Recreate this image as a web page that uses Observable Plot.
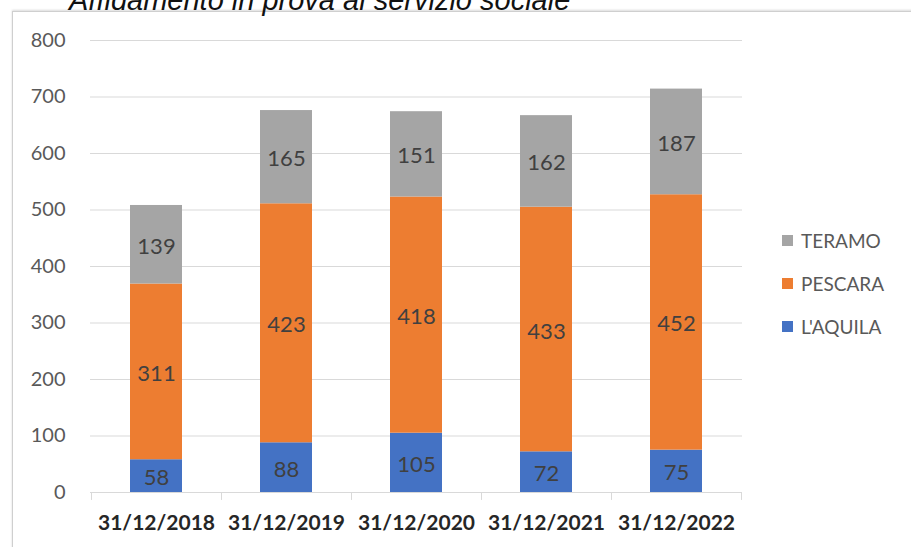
<!DOCTYPE html>
<html>
<head>
<meta charset="utf-8">
<script src="https://cdn.jsdelivr.net/npm/d3@7"></script>
<script src="https://cdn.jsdelivr.net/npm/@observablehq/plot@0.6"></script>
<style>
  html, body { margin: 0; padding: 0; background: #fff; overflow: hidden; }
  #wrap { position: relative; width: 911px; height: 547px; overflow: hidden; }
  #title { position: absolute; left: 69px; top: -14px; font: italic 29px "Liberation Sans", Arial, sans-serif; color: #111; line-height: 29px; white-space: nowrap; }
  #frame { position: absolute; left: 12px; top: 11px; width: 940px; height: 600px; border: 1px solid #cfcfcf; box-shadow: 0 -1px 2px rgba(0,0,0,0.15); }
  #chart { position: absolute; left: 0; top: 0; }
  #legend { position: absolute; left: 782px; top: 219px; font: 19px Lato, "Open Sans", sans-serif; color: #595959; }
  #legend .item { display: flex; align-items: center; height: 43px; }
  #legend .sw { width: 11px; height: 11px; margin-right: 8px; }
</style>
</head>
<body>
<div id="wrap">
  <div id="frame"></div>
  <div id="title">Affidamento in prova al servizio sociale</div>
  <div id="chart"></div>
  <div id="legend"></div>
</div>
<script>
const dates = ["31/12/2018", "31/12/2019", "31/12/2020", "31/12/2021", "31/12/2022"];
const series = ["L'AQUILA", "PESCARA", "TERAMO"];
const colors = ["#4472C4", "#ED7D31", "#A5A5A5"];
const aquila = [58, 88, 105, 72, 75];
const pescara = [311, 423, 418, 433, 452];
const teramo = [139, 165, 151, 162, 187];
const yTicks = [0, 100, 200, 300, 400, 500, 600, 700, 800];

const values = [aquila, pescara, teramo];
const data = [];
dates.forEach((d, i) => {
  series.forEach((s, j) => data.push({date: d, series: s, value: values[j][i]}));
});

const font = "Lato, 'Open Sans', sans-serif";
const chart = Plot.plot({
  width: 911,
  height: 547,
  marginLeft: 90,
  marginRight: 169,
  marginTop: 40,
  marginBottom: 55,
  style: {background: "transparent", fontFamily: font},
  x: {domain: dates, label: null, paddingInner: 0.6, paddingOuter: 0.3},
  y: {domain: [0, 800], label: null},
  color: {domain: series, range: colors},
  marks: [
    Plot.gridY(yTicks.filter(t => t > 0), {stroke: "#d9d9d9", strokeOpacity: 1, strokeWidth: 1}),
    Plot.ruleY([0], {stroke: "#d9d9d9"}),
    Plot.ruleX(dates, {x: d => d, dx: -65, y1: 0, y2: -14, stroke: "#d9d9d9"}),
    Plot.ruleX(dates.slice(-1), {x: d => d, dx: 65, y1: 0, y2: -14, stroke: "#d9d9d9"}),
    Plot.barY(data, Plot.stackY({x: "date", y: "value", fill: "series", order: series})),
    Plot.text(data, Plot.stackY({x: "date", y: "value", z: "series", order: series, text: d => String(d.value), fill: "#404040", fontSize: 22, fontFamily: font, dy: 2})),
    Plot.axisY({ticks: yTicks, tickSize: 0, tickPadding: 25, fontSize: 20, fill: "#595959", label: null}),
    Plot.axisX({tickSize: 0, tickPadding: 23, fontSize: 21, fontWeight: "bold", fill: "#262626", label: null})
  ]
});
document.getElementById("chart").appendChild(chart);

const legend = document.getElementById("legend");
[...series].reverse().forEach(s => {
  const it = document.createElement("div");
  it.className = "item";
  const sw = document.createElement("div");
  sw.className = "sw";
  sw.style.background = colors[series.indexOf(s)];
  const tx = document.createElement("span");
  tx.textContent = s;
  it.appendChild(sw);
  it.appendChild(tx);
  legend.appendChild(it);
});
</script>
</body>
</html>
